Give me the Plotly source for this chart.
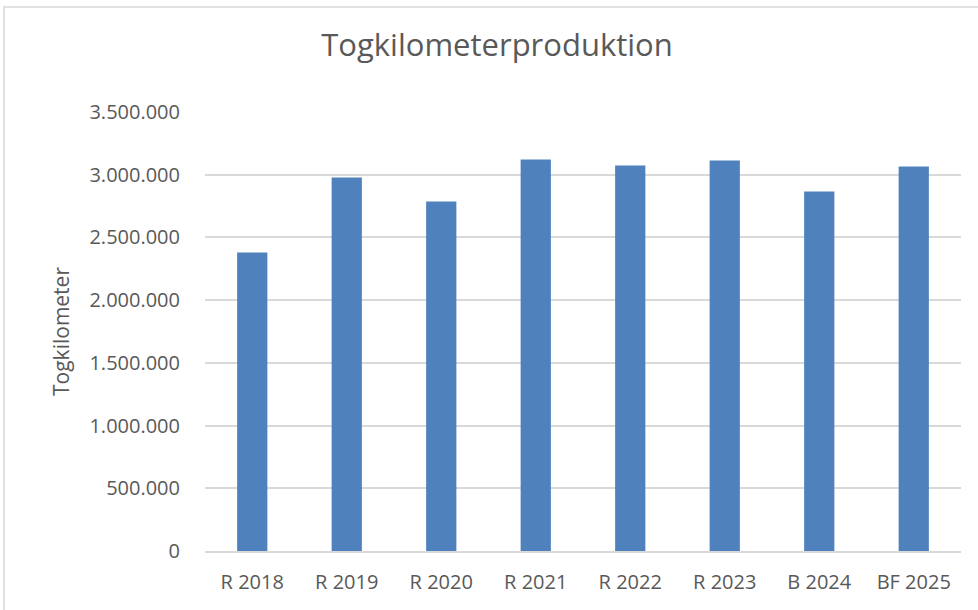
import plotly.graph_objects as go

categories = ["R 2018", "R 2019", "R 2020", "R 2021", "R 2022", "R 2023", "B 2024", "BF 2025"]
togkilometer = [2380000, 2978000, 2787000, 3122000, 3074000, 3114000, 2867000, 3066000]
tick_values = [0, 500000, 1000000, 1500000, 2000000, 2500000, 3000000, 3500000]

W, H = 978, 610
ml, mr, mt, mb = 205, 17, 112, 59

fig = go.Figure(go.Bar(x=categories, y=togkilometer, marker=dict(color="#4F81BD", line=dict(width=0))))

pw = W - ml - mr
ph = H - mt - mb
def px_x(p):
    return (p - ml) / pw
def px_y(p):
    return (H - mb - p) / ph

fig.update_layout(
    width=W, height=H,
    margin=dict(l=ml, r=mr, t=mt, b=mb),
    paper_bgcolor="white", plot_bgcolor="white",
    separators=",.",
    bargap=0.68,
    font=dict(family="Open Sans", color="#595959", size=20),
    title=dict(text="Togkilometerproduktion", x=497 / W, xanchor="center", y=1 - 45 / H, yanchor="middle",
               font=dict(size=31, color="#595959", family="Open Sans")),
    showlegend=False,
    xaxis=dict(showgrid=False, showline=True, linecolor="#d9d9d9", linewidth=1.5, ticks="",
               ticklabelstandoff=12,
               tickfont=dict(size=20, color="#595959")),
    yaxis=dict(range=[0, 3500000], tickvals=tick_values, tickformat=",d", showgrid=True,
               gridcolor="#d9d9d9", gridwidth=1.5, zeroline=False, showline=False, ticks="",
               ticklabelstandoff=24,
               title=dict(text="Togkilometer", font=dict(size=21, color="#595959"), standoff=14),
               tickfont=dict(size=20, color="#595959")),
    shapes=[dict(type="rect", xref="paper", yref="paper",
                 x0=px_x(4), x1=px_x(990), y0=px_y(640), y1=px_y(7),
                 line=dict(color="#d9d9d9", width=1.5), fillcolor="rgba(0,0,0,0)", layer="below")],
)

fig.write_html("out.html", config={"displayModeBar": False},
               post_script="document.body.style.margin='0';document.body.style.overflow='hidden';")
